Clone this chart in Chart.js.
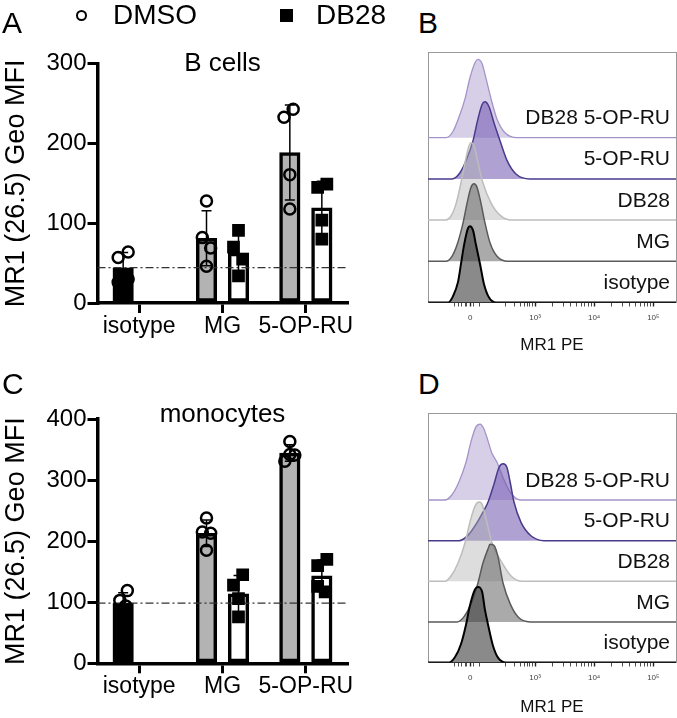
<!DOCTYPE html>
<html>
<head>
<meta charset="utf-8">
<script src="https://cdn.jsdelivr.net/npm/chart.js@4.4.1/dist/chart.umd.min.js"></script>
<style>
  body { margin: 0; background: #fff; }
  #fig { position: relative; width: 677px; height: 718px; font-family: 'Liberation Sans', Arial, sans-serif; color: #000; }
  #fig canvas { position: absolute; }
  .lbl { position: absolute; line-height: 1; white-space: nowrap; }
  .letter { font-size: 30px; }
  .leg { font-size: 28px; }
  .dot { position: absolute; box-sizing: border-box; width: 11px; height: 11px; border: 2.5px solid #000; border-radius: 50%; }
  .sq { position: absolute; width: 13px; height: 13px; background: #000; }
</style>
</head>
<body>
<div id="fig">
  <canvas id="chartA" width="400" height="345" style="left:0;top:0"></canvas>
  <canvas id="chartB" width="277" height="316" style="left:400px;top:40px"></canvas>
  <canvas id="chartC" width="400" height="373" style="left:0;top:345px"></canvas>
  <canvas id="chartD" width="277" height="318" style="left:400px;top:400px"></canvas>

  <div class="lbl letter" style="left:2px;top:8px">A</div>
  <div class="lbl letter" style="left:418px;top:8px">B</div>
  <div class="lbl letter" style="left:2px;top:369px">C</div>
  <div class="lbl letter" style="left:418px;top:369px">D</div>

  <div class="dot" style="left:76px;top:10px"></div>
  <div class="lbl leg" style="left:113px;top:1px">DMSO</div>
  <div class="sq" style="left:280px;top:9px"></div>
  <div class="lbl leg" style="left:316px;top:1px">DB28</div>
</div>

<script>
Chart.defaults.font.family = "'Liberation Sans', Arial, sans-serif";
Chart.defaults.color = '#000';

// bar panels: one value per donor, 4 donors per group
const groups = ['isotype', 'MG', '5-OP-RU'];

const bcellDmso = [[64, 57, 30, 26], [128, 82, 69, 46], [243, 233, 161, 118]];
const bcellDb28 = [null, [91, 70, 55, 34], [149, 145, 104, 80]];
const monoDmso = [[119, 103, 94, 78], [238, 215, 213, 185], [363, 342, 341, 331]];
const monoDb28 = [null, [145, 128, 106, 76], [170, 160, 126, 117]];

// sideways spread of the dots so they don't sit on top of each other
const bcellDmsoSpread = [[0.06, -0.06, 0.06, -0.06], [0, -0.05, 0.05, 0], [0.04, -0.07, 0, 0]];
const bcellDb28Spread = [null, [0, -0.06, 0.05, 0], [0.06, -0.05, 0, 0]];
const monoDmsoSpread = [[0.05, -0.04, 0.03, 0], [0, -0.05, 0.05, 0], [0, 0, 0.06, -0.06]];
const monoDb28Spread = [null, [0.05, -0.06, 0, 0], [0.06, -0.05, -0.05, 0.04]];

// histogram panels, rows from bottom to top
const rows = ['isotype', 'MG', 'DB28', '5-OP-RU', 'DB28 5-OP-RU'];
// [channel, height] with height relative to the row spacing
const bcellHist = [
  [[0, 0], [83, 0], [103, 0.15], [124, 0.5], [136, 0.93], [149, 1.4], [165, 1.8], [173, 1.85], [186, 1.75], [198, 1.4], [215, 0.93], [231, 0.45], [252, 0.12], [281, 0], [1024, 0]],
  [[0, 0], [74, 0], [99, 0.12], [120, 0.4], [145, 0.94], [161, 1.4], [178, 1.8], [190, 1.88], [202, 1.8], [219, 1.4], [235, 0.94], [256, 0.45], [285, 0.12], [330, 0], [1024, 0]],
  [[0, 0], [70, 0], [95, 0.1], [116, 0.4], [136, 0.9], [153, 1.4], [169, 1.8], [178, 1.88], [190, 1.8], [206, 1.4], [227, 0.9], [260, 0.42], [297, 0.12], [343, 0], [1024, 0]],
  [[0, 0], [99, 0], [132, 0.15], [161, 0.5], [186, 0.93], [206, 1.45], [223, 1.8], [235, 1.87], [252, 1.75], [273, 1.35], [297, 0.93], [326, 0.45], [363, 0.12], [421, 0], [1024, 0]],
  [[0, 0], [74, 0], [103, 0.15], [128, 0.5], [153, 0.95], [173, 1.45], [194, 1.82], [206, 1.9], [223, 1.8], [239, 1.45], [260, 0.95], [285, 0.45], [318, 0.12], [367, 0], [1024, 0]]
];
const monoHist = [
  [[0, 0], [87, 0], [111, 0.13], [136, 0.45], [157, 0.93], [173, 1.4], [194, 1.8], [206, 1.86], [223, 1.75], [235, 1.3], [248, 0.93], [268, 0.42], [289, 0.12], [322, 0], [1024, 0]],
  [[0, 0], [120, 0], [149, 0.13], [178, 0.45], [206, 0.95], [227, 1.45], [248, 1.8], [256, 1.91], [273, 1.88], [289, 1.6], [310, 0.95], [339, 0.45], [372, 0.12], [421, 0], [1024, 0]],
  [[0, 0], [70, 0], [95, 0.13], [124, 0.45], [153, 0.95], [173, 1.45], [194, 1.85], [211, 1.95], [223, 1.9], [239, 1.55], [264, 0.95], [306, 0.45], [343, 0.13], [388, 0], [1024, 0]],
  [[0, 0], [128, 0], [165, 0.13], [198, 0.4], [227, 0.7], [248, 0.95], [273, 1.4], [293, 1.8], [310, 1.89], [326, 1.8], [339, 1.45], [355, 0.95], [384, 0.45], [425, 0.12], [479, 0], [1024, 0]],
  [[0, 0], [70, 0], [99, 0.13], [128, 0.45], [157, 0.93], [178, 1.45], [198, 1.8], [215, 1.87], [231, 1.75], [248, 1.45], [264, 1.15], [285, 0.93], [310, 0.55], [339, 0.2], [380, 0], [1024, 0]]
];

// biexponential axis, in display channels
const decadeTicks = [174, 442, 686, 930];
const decadeLabels = ['0', '10³', '10⁴', '10⁵'];
const minorTicks = [111, 124, 140, 153, 161, 186, 211, 318, 359, 380, 398, 410, 421, 431,
  515, 558, 589, 612, 632, 648, 662, 675, 759, 802, 833, 856, 876, 892, 906, 919];

const rowLine = ['#000000', '#5a5a5a', '#bdbdbd', '#4a3a8c', '#a493c9'];
const rowFill = ['rgba(60,60,60,0.6)', 'rgba(100,100,100,0.55)', 'rgba(175,175,175,0.42)',
  'rgba(110,85,175,0.55)', 'rgba(150,125,195,0.38)'];
const rowWidth = [2, 1.5, 1.5, 1.5, 1.3];

const mean = a => a.reduce((s, v) => s + v, 0) / a.length;
const sd = a => {
  const m = mean(a);
  return Math.sqrt(a.reduce((s, v) => s + (v - m) * (v - m), 0) / (a.length - 1));
};

function barPanel(id, o) {
  const shift = 0.192; // offset of each bar from the group centre
  const dots = (sets, spread, side) => {
    const pts = [];
    sets.forEach((vals, g) => {
      if (!vals) return;
      vals.forEach((v, k) => pts.push({x: g + side * shift + spread[g][k], y: v}));
    });
    return pts;
  };
  const bars = (sets, side) => {
    const pts = [];
    sets.forEach((vals, g) => { if (vals) pts.push({x: g + side * shift, y: mean(vals)}); });
    return pts;
  };
  const errs = [];
  [[o.dmso, -1], [o.db28, 1]].forEach(([sets, side]) => {
    sets.forEach((vals, g) => {
      if (!vals) return;
      const m = mean(vals), s = sd(vals), x = g + side * shift;
      errs.push({x: x, y: m - s}, {x: x, y: m + s}, {x: x, y: null});
    });
  });
  const isoMean = mean(o.dmso[0]);

  new Chart(document.getElementById(id), {
    type: 'bar',
    data: {
      labels: groups,
      datasets: [
        {
          type: 'scatter', label: 'DMSO', xAxisID: 'xp', order: 0,
          data: dots(o.dmso, o.dmsoSpread, -1),
          pointStyle: 'circle', pointRadius: 5.5, pointBorderWidth: 2.5,
          pointBorderColor: '#000', pointBackgroundColor: 'rgba(0,0,0,0)'
        },
        {
          type: 'scatter', label: 'DB28', xAxisID: 'xp', order: 0,
          data: dots(o.db28, o.db28Spread, 1),
          pointStyle: 'rect', pointRadius: 9, pointBorderWidth: 0,
          pointBackgroundColor: '#000'
        },
        {
          type: 'line', label: 'SD', xAxisID: 'xp', order: 1,
          data: errs, spanGaps: false,
          borderColor: '#000', borderWidth: 1.5,
          pointStyle: 'line', pointRadius: 5, pointBorderWidth: 1.5, pointBorderColor: '#000'
        },
        {
          type: 'line', label: 'isotype', xAxisID: 'xp', order: 2,
          data: [{x: -0.5, y: isoMean}, {x: 2.5, y: isoMean}],
          borderColor: '#333', borderWidth: 1.2, borderDash: [8, 3, 2, 3], pointRadius: 0
        },
        {
          label: 'DMSO', xAxisID: 'xp', order: 3, grouped: false,
          data: bars(o.dmso, -1),
          backgroundColor: ['#000', '#b3b3b3', '#b3b3b3'],
          borderColor: '#000', borderWidth: 3.5, borderSkipped: false,
          barThickness: 20.5
        },
        {
          label: 'DB28', xAxisID: 'xp', order: 3, grouped: false,
          data: bars(o.db28, 1),
          backgroundColor: '#fff',
          borderColor: '#000', borderWidth: 3.5, borderSkipped: false,
          barThickness: 20.5
        }
      ]
    },
    options: {
      responsive: false,
      animation: false,
      events: [],
      layout: { padding: { top: o.padTop, right: 52.5, left: 0, bottom: 0 } },
      plugins: {
        legend: { display: false },
        tooltip: { enabled: false },
        title: {
          display: true, text: o.title, fullSize: false,
          font: { size: 26, weight: 'normal' }, color: '#000',
          padding: o.titlePad
        }
      },
      scales: {
        x: {
          type: 'category', offset: true,
          grid: { offset: false, drawOnChartArea: false, tickLength: 10, lineWidth: 3, color: '#000' },
          border: { width: 3.5, color: '#000' },
          ticks: { font: { size: 23 }, color: '#000', padding: 0, maxRotation: 0, autoSkip: false },
          afterFit: s => { s.height = o.axisHeight; }
        },
        xp: { type: 'linear', min: -0.5, max: 2.5, display: false, offset: false },
        y: {
          min: 0, max: o.yMax,
          ticks: { stepSize: 100, font: { size: 24 }, color: '#000', padding: 1 },
          grid: { drawOnChartArea: false, tickLength: 10, lineWidth: 3, color: '#000' },
          border: { width: 3.5, color: '#000' },
          title: { display: true, text: 'MR1 (26.5) Geo MFI', font: { size: 27 }, color: '#000', padding: 0 },
          afterFit: s => { s.width = 97.5; }
        }
      }
    }
  });
}

function histPanel(id, curves, yMax, topH, bottomH) {
  new Chart(document.getElementById(id), {
    type: 'line',
    data: {
      datasets: curves.map((pts, i) => ({
        label: rows[i],
        data: pts.map(p => ({x: p[0], y: i + p[1]})),
        fill: { value: i },
        borderColor: rowLine[i],
        backgroundColor: rowFill[i],
        borderWidth: rowWidth[i],
        pointRadius: 0,
        cubicInterpolationMode: 'monotone'
      }))
    },
    options: {
      responsive: false,
      animation: false,
      events: [],
      layout: { padding: 0 },
      plugins: { legend: { display: false }, tooltip: { enabled: false } },
      scales: {
        x: {
          type: 'linear', min: 0, max: 1024,
          afterBuildTicks: s => {
            s.ticks = decadeTicks.concat(minorTicks).sort((a, b) => a - b).map(v => ({value: v}));
          },
          ticks: {
            autoSkip: false, maxRotation: 0, padding: 6,
            font: { size: 8 }, color: '#444',
            callback: v => decadeTicks.includes(v) ? decadeLabels[decadeTicks.indexOf(v)] : ''
          },
          grid: {
            drawOnChartArea: false, tickLength: 4, tickColor: '#222',
            tickWidth: c => decadeTicks.includes(c.tick.value) ? 1.4 : 0.8
          },
          border: { color: '#333', width: 1 },
          title: { display: true, text: 'MR1 PE', font: { size: 17 }, color: '#111', padding: 0 },
          afterFit: s => { s.height = bottomH; }
        },
        y: {
          type: 'linear', position: 'right', min: 0, max: yMax,
          afterBuildTicks: s => { s.ticks = rows.map((r, i) => ({value: i + 0.47})); },
          ticks: {
            mirror: true, padding: -6, autoSkip: false,
            font: { size: 21 }, color: '#111',
            callback: (v, i) => rows[i]
          },
          grid: { display: false },
          border: { color: '#999', width: 1 },
          afterFit: s => { s.width = 1; }
        },
        xTop: {
          axis: 'x', type: 'linear', position: 'top', min: 0, max: 1024,
          ticks: { display: false }, grid: { display: false, drawTicks: false },
          border: { color: '#999', width: 1 },
          afterFit: s => { s.height = topH; }
        },
        yLeft: {
          axis: 'y', type: 'linear', position: 'left', min: 0, max: yMax,
          ticks: { display: false }, grid: { display: false, drawTicks: false },
          border: { color: '#999', width: 1 },
          afterFit: s => { s.width = 28; }
        }
      }
    }
  });
}

barPanel('chartA', {
  title: 'B cells', yMax: 300, padTop: 59, axisHeight: 42,
  titlePad: { top: -11, bottom: -15.4 },
  dmso: bcellDmso, db28: bcellDb28, dmsoSpread: bcellDmsoSpread, db28Spread: bcellDb28Spread
});
barPanel('chartC', {
  title: 'monocytes', yMax: 400, padTop: 74, axisHeight: 54.7,
  titlePad: { top: -20.2, bottom: -11 },
  dmso: monoDmso, db28: monoDb28, dmsoSpread: monoDmsoSpread, db28Spread: monoDb28Spread
});
histPanel('chartB', bcellHist, 6.08, 12, 53.5);
histPanel('chartD', monoHist, 6.13, 13.5, 55.5);
</script>
</body>
</html>
